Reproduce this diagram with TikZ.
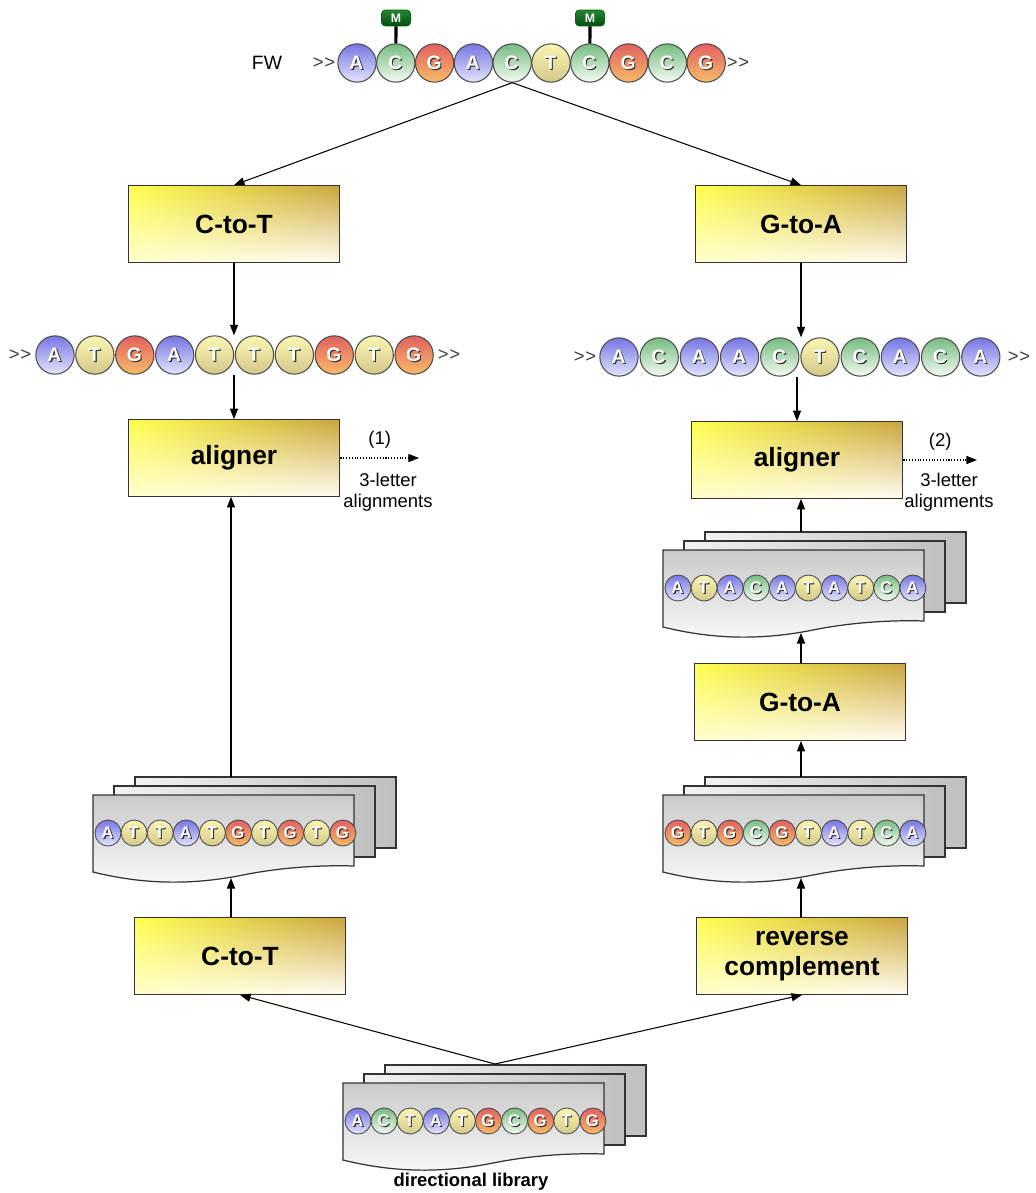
\documentclass[tikz,border=0pt]{standalone}
\usepackage{fontspec}
\setmainfont{Liberation Sans}
\usetikzlibrary{arrows.meta,shadings}

% base colours (top / bottom of the ball)
\definecolor{Atop}{RGB}{118,118,228}
\definecolor{Abot}{RGB}{228,228,252}
\definecolor{Ctop}{RGB}{118,188,128}
\definecolor{Cbot}{RGB}{244,250,244}
\definecolor{Gtop}{RGB}{226,96,96}
\definecolor{Gbot}{RGB}{246,188,104}
\definecolor{Ttop}{RGB}{250,246,178}
\definecolor{Tbot}{RGB}{212,200,138}
% step boxes
\definecolor{boxUL}{RGB}{255,255,80}
\definecolor{boxUR}{RGB}{202,164,64}
\definecolor{boxLL}{RGB}{255,255,206}
\definecolor{boxLR}{RGB}{255,252,240}

% white letter with a dark shadow
\newcommand{\nuc}[1]{\rlap{\textcolor{black!85}{#1}}\kern-0.6pt\raisebox{0.6pt}{\textcolor{white}{#1}}}

\begin{document}
\begin{tikzpicture}[x=0.02cm,y=-0.02cm,
    font=\fontsize{10.5}{12}\selectfont,
    stepbox/.style={draw=black!80,line width=0.7pt,shade,upper left=boxUL,upper right=boxUR,
        lower left=boxLL,lower right=boxLR,minimum width=120.5pt,minimum height=43.6pt,
        align=center,font=\fontsize{15}{17}\selectfont\bfseries},
    arr/.style={-{Triangle[length=6pt,width=4.6pt]},line width=0.6pt},
    outarr/.style={arr,densely dotted},
    bigbase/.style={circle,draw=black!70,line width=0.6pt,minimum size=21.8pt,inner sep=0pt,
        font=\fontsize{11}{11}\selectfont\bfseries},
    smallbase/.style={circle,draw=black!70,line width=0.5pt,minimum size=14.8pt,inner sep=0pt,
        font=\fontsize{9.5}{9.5}\selectfont\bfseries},
    nuc/.style={top color=#1top,bottom color=#1bot},
    gtgt/.style={text=black!75},
    mbox/.style={rounded corners=2pt,draw=black!60!green,top color={rgb,255:red,40;green,132;blue,52},
        bottom color={rgb,255:red,0;green,78;blue,18},minimum width=16.5pt,minimum height=9pt,
        inner sep=0pt,text=white,font=\fontsize{7}{7}\selectfont\bfseries},
    backsheet/.style={draw=black!80,line width=0.7pt,left color=gray!10,right color=gray!50},
    frontsheet/.style={draw=black!80,line width=0.7pt,top color=gray!42,bottom color=gray!4},
    readstack/.pic={
        \foreach \dx/\dy in {42/-18,21/-9}
            \draw[backsheet] (\dx,\dy) rectangle ++(261,71);
        \draw[frontsheet] (0,0) -- (261,0) -- (261,71)
            .. controls (230,70) and (190,72) .. (150,80)
            .. controls (110,88) and (60,92) .. (0,77) -- cycle;
        \foreach \s [count=\i] in {#1}
            \node[smallbase,nuc=\s] at ({15+(\i-1)*26.1},38) {\nuc{\s}};
        \coordinate (-top) at (138,-18);
        \coordinate (-bot) at (138,83);
    }
]
\fill[white] (0,0) rectangle (1035,1193);
\useasboundingbox (0,0) rectangle (1035,1193);

% forward strand with the two methylated C
\node (fw) at (267,63) {\fontsize{11}{11}\selectfont FW};
\node[gtgt] (fwin) at (324,63) {>\kern0.3pt>};
\foreach \s [count=\i] in {A,C,G,A,C,T,C,G,C,G}
    \node[bigbase,nuc=\s] (fw\i) at ({357+(\i-1)*38.8},63) {\nuc{\s}};
\node[gtgt] (fwout) at (738,63) {>\kern0.3pt>};
\node[mbox] (m1) at (396,18) {M};
\node[mbox] (m2) at (590,18) {M};
\draw[line width=1.8pt] (m1) -- (fw2);
\draw[line width=1.8pt] (m2) -- (fw7);

% in silico conversions of the genome
\node[stepbox] (ctT) at (234,224) {C-to-T};
\node[stepbox] (gaT) at (801,224) {G-to-A};
\draw[arr] (fw5.south) -- (ctT.north);
\draw[arr] (fw5.south) -- (gaT.north);

\node[gtgt] (ltin) at (20,355) {>\kern0.3pt>};
\foreach \s [count=\i] in {A,T,G,A,T,T,T,G,T,G}
    \node[bigbase,nuc=\s] (lt\i) at ({55+(\i-1)*39.9},355) {\nuc{\s}};
\node[gtgt] (ltout) at (449,355) {>\kern0.3pt>};

\node[gtgt] (rtin) at (585,357) {>\kern0.3pt>};
\foreach \s [count=\i] in {A,C,A,A,C,T,C,A,C,A}
    \node[bigbase,nuc=\s] (rt\i) at ({619+(\i-1)*40.2},357) {\nuc{\s}};
\node[gtgt] (rtout) at (1019,357) {>\kern0.3pt>};

\draw[arr] (ctT.south) -- (ctT.south |- lt5.north);
\draw[arr] (gaT.south) -- (gaT.south |- rt5.north);

% aligners
\node[stepbox] (alnL) at (234,458) {aligner};
\node[stepbox] (alnR) at (797,460) {aligner};
\draw[arr] (alnL.north |- lt5.south) -- (alnL.north);
\draw[arr] (alnR.north |- rt5.south) -- (alnR.north);

\coordinate (out1) at (419,458);
\coordinate (out2) at (977,460);
\draw[outarr] (alnL.east) -- (out1) node[midway,above=2pt] (lab1) {(1)};
\draw[outarr] (alnR.east) -- (out2) node[midway,above=2pt] (lab2) {(2)};
\node[align=center] (res1) at (388,492) {3-letter\\alignments};
\node[align=center] (res2) at (949,492) {3-letter\\alignments};

% reads
\pic (lib) at (343,1083) {readstack={A,C,T,A,T,G,C,G,T,G}};
\node[font=\fontsize{10.5}{12}\selectfont\bfseries] (libname) at (471,1182) {directional library};
\coordinate (apex) at (495,1064);

\node[stepbox] (ctB) at (240,956) {C-to-T};
\node[stepbox] (rcB) at (802,956) {reverse\\complement};
\draw[arr] (apex) -- (ctB.south);
\draw[arr] (apex) -- (rcB.south);

\pic (docL) at (93,795) {readstack={A,T,T,A,T,G,T,G,T,G}};
\draw[arr] (docL-bot |- ctB.north) -- (docL-bot);
\draw[arr] (docL-top) -- (docL-top |- alnL.south);

\pic (docR) at (663,795) {readstack={G,T,G,C,G,T,A,T,C,A}};
\node[stepbox] (gaB) at (800,702) {G-to-A};
\pic (docG) at (663,550) {readstack={A,T,A,C,A,T,A,T,C,A}};
\draw[arr] (docR-bot |- rcB.north) -- (docR-bot);
\draw[arr] (docR-top) -- (docR-top |- gaB.south);
\draw[arr] (docG-bot |- gaB.north) -- (docG-bot);
\draw[arr] (docG-top) -- (docG-top |- alnR.south);
\end{tikzpicture}
\end{document}
